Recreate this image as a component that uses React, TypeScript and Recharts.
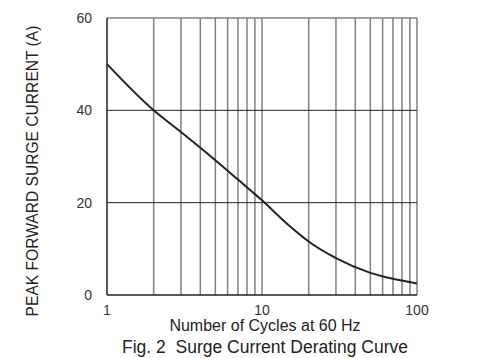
import { LineChart, Line, XAxis, YAxis, ReferenceLine } from 'recharts';

// cycles at 60 Hz vs. peak forward surge current (A)
const cycles = [1, 2, 3, 5, 7, 10, 15, 20, 30, 50, 70, 100];
const current = [50, 40, 35.3, 29.2, 25, 20.5, 15, 11.6, 8, 4.8, 3.5, 2.5];
const gridCycles = [2, 3, 4, 5, 6, 7, 8, 9, 10, 20, 30, 40, 50, 60, 70, 80, 90, 100];
const xTicks = [1, 10, 100];
const yTicks = [0, 20, 40, 60];
const yGrid = [20, 40];

const data = cycles.map((c, i) => ({ cycles: c, amps: current[i] }));

const font = '"Liberation Sans", Arial, sans-serif';

export default function App() {
  return (
    <div style={{ position: 'absolute', left: 0, top: 0, width: 500, height: 358, background: '#fff', fontFamily: font }}>
      <LineChart width={500} height={358} data={data} margin={{ top: 18, right: 83, bottom: 33, left: 0 }}>
        {gridCycles.map((g) => (
          <ReferenceLine key={g} x={g} stroke="#808080" strokeWidth={1.5} />
        ))}
        {yGrid.map((g) => (
          <ReferenceLine key={g} y={g} stroke="#222" strokeWidth={1} />
        ))}
        <ReferenceLine y={60} stroke="#808080" strokeWidth={1.5} />
        <XAxis
          dataKey="cycles"
          type="number"
          scale="log"
          domain={[1, 100]}
          ticks={xTicks}
          height={30}
          tickLine={false}
          axisLine={{ stroke: '#222', strokeWidth: 1.5 }}
          tick={{ fill: '#333', fontSize: 14, fontFamily: font }}
          tickMargin={4}
        />
        <YAxis
          type="number"
          domain={[0, 60]}
          ticks={yTicks}
          width={107}
          tickLine={false}
          axisLine={{ stroke: '#222', strokeWidth: 1.5 }}
          tick={{ fill: '#333', fontSize: 14, fontFamily: font }}
          tickMargin={9}
        />
        <Line
          dataKey="amps"
          type="monotone"
          stroke="#222"
          strokeWidth={2}
          dot={false}
          isAnimationActive={false}
        />
      </LineChart>
      <div style={{ position: 'absolute', left: 0, width: 530, top: 317, textAlign: 'center', fontSize: 16, color: '#222' }}>
        Number of Cycles at 60 Hz
      </div>
      <div style={{ position: 'absolute', left: 0, width: 530, top: 337, textAlign: 'center', fontSize: 17.5, color: '#222', whiteSpace: 'pre' }}>
        {'Fig. 2  Surge Current Derating Curve'}
      </div>
      <div
        style={{
          position: 'absolute',
          left: 33,
          top: 171,
          transform: 'translate(-50%, -50%) rotate(-90deg)',
          whiteSpace: 'nowrap',
          fontSize: 15.6,
          color: '#222',
        }}
      >
        PEAK FORWARD SURGE CURRENT (A)
      </div>
    </div>
  );
}
